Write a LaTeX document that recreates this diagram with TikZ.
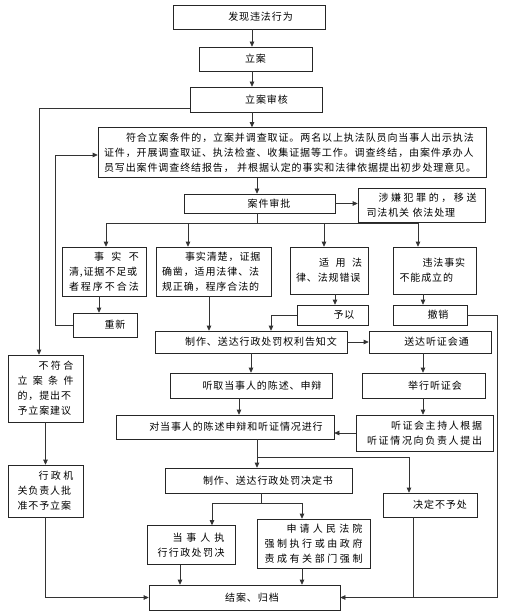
\documentclass[tikz,border=0pt]{standalone}
\usepackage{fontspec}
\setmainfont{Noto Sans CJK SC}[LetterSpace=9]
\usetikzlibrary{arrows.meta}
\makeatletter
\newcommand{\spreadtxt}[1]{\@tfor\spch:=#1\do{\spch\hfill}\unskip}
\makeatother
\begin{document}
\begin{tikzpicture}[x=1pt, y=-1pt,
  box/.style={draw=black!85, line width=0.6pt, inner xsep=2pt, inner ysep=1pt,
    font=\fontsize{10}{15}\selectfont},
  para/.style={box, align=left},
  sz/.style 2 args={minimum width=#1pt, minimum height=#2pt},
  link/.style={draw=black!80, line width=0.6pt},
  arr/.style={link, -{Triangle[length=5pt,width=4.5pt]}}]
  \useasboundingbox (0,0) rectangle (505,612);

  % Filing and investigation
  \node[box, sz={152}{24}] (find) at (249,17) {\hspace*{23pt}发现违法行为};
  \node[box, sz={113}{24}] (lian) at (255.5,59) {立案};
  \node[box, sz={132}{25}] (shenhe) at (256,99.5) {\hspace*{21pt}立案审核};
  \node[para, sz={388}{50}, text width=376pt] (diaocha) at (292,152.5)
    {\hspace*{22pt}符合立案条件的，立案并调查取证。两名以上执法队员向当事人出示执法\\
     证件，开展调查取证、执法检查、收集证据等工作。调查终结，由案件承办人\\
     员写出案件调查终结报告， 并根据认定的事实和法律依据提出初步处理意见。};
  \node[box, sz={151}{19}] (shenpi) at (259.5,203.5) {\hspace*{19pt}案件审批};
  \node[para, sz={127}{34}, text width=110pt] (yisong) at (421.5,205)
    {\hspace*{12pt}\spreadtxt{涉嫌犯罪的，移送}\\司法机关 依法处理};

  % Results of the review
  \node[para, sz={84}{49}, text width=70pt] (buqing) at (104,271.5)
    {\hspace*{25pt}\spreadtxt{事实不}\\清,证据不足或\\\spreadtxt{者程序不合法}};
  \node[para, sz={115}{49}, text width=103pt] (qingchu) at (213.5,271.5)
    {\hspace*{23pt}事实清楚，证据\\确凿，适用法律、法\\规正确，程序合法的};
  \node[para, sz={78}{47}, text width=66pt] (cuowu) at (329,270.5)
    {\hspace*{23pt}\spreadtxt{适用法}\\律、法规错误};
  \node[para, sz={83}{47}, text width=70pt] (buchengli) at (434.5,270.5)
    {\hspace*{23pt}违法事实\\不能成立的};
  \node[box, sz={64}{24}] (chongxin) at (105,325) {\hspace*{20pt}重新};
  \node[box, sz={71}{20}] (yuyi) at (332.5,315) {\hspace*{23pt}予以};
  \node[box, sz={74}{20}] (chexiao) at (430,315) {\hspace*{16pt}撤销};

  % Notice and hearing
  \node[box, sz={192}{22}] (gaozhi) at (251,342) {\hspace*{20pt}制作、送达行政处罚权利告知文};
  \node[box, sz={122}{22}] (tongzhi) at (430,342) {\hspace*{13pt}送达听证会通};
  \node[box, sz={162}{25}] (tingqu) at (251,385.5) {\hspace*{22pt}听取当事人的陈述、申辩};
  \node[box, sz={123}{25}] (juxing) at (423.5,385.5) {\hspace*{23pt}举行听证会};
  \node[box, sz={218}{24}] (jinxing) at (225,427) {\hspace*{22pt}对当事人的陈述申辩和听证情况进行};
  \node[para, sz={137}{36}, text width=115pt] (zhuchi) at (424.5,433)
    {\hspace*{24pt}\spreadtxt{听证会主持人根据}\\\spreadtxt{听证情况向负责人提出}};

  % Decision and closing
  \node[box, sz={187}{25}] (jueding) at (258.5,480.5) {\hspace*{19pt}制作、送达行政处罚决定书};
  \node[box, sz={94}{24}] (buyu) at (430,505) {\hspace*{20pt}决定不予处};
  \node[para, sz={88}{39}, text width=67pt] (zhixing) at (191,545)
    {\hspace*{15pt}\spreadtxt{当事人执}\\\spreadtxt{行行政处罚决}};
  \node[para, sz={113}{49}, text width=98pt] (qiangzhi) at (313.5,543.5)
    {\hspace*{22pt}\spreadtxt{申请人民法院}\\\spreadtxt{强制执行或由政府}\\\spreadtxt{责成有关部门强制}};
  \node[box, sz={191}{25}] (jiean) at (244.5,597.5) {\hspace*{15pt}结案、归档};

  % Not filed
  \node[para, sz={75}{67}, text width=56pt] (bufuhe) at (45.5,388.5)
    {\hspace*{21pt}\spreadtxt{不符合}\\\spreadtxt{立案条件}\\的，提出不\\予立案建议};
  \node[para, sz={75}{52}, text width=56pt] (xingzheng) at (45.5,491)
    {\hspace*{21pt}\spreadtxt{行政机}\\关负责人批\\准不予立案};

  % Column guides for the connectors
  \foreach \x in {99,106,180,188,209,212,239,252,257,261,271,302,324,335,409,413,418,423,497}
    \coordinate (v\x) at (\x,0);
  \coordinate (kNo) at (39,108);
  \coordinate (kRe) at (55,155);
  \coordinate (bus) at (0,223);
  \coordinate (kDe) at (257,457);
  \coordinate (kEx) at (261,503);

  % Main line
  \draw[arr] (v252 |- find.south) -- (v252 |- lian.north);
  \draw[arr] (v252 |- lian.south) -- (v252 |- shenhe.north);
  \draw[arr] (v252 |- shenhe.south) -- (v252 |- diaocha.north);
  \draw[arr] (v257 |- diaocha.south) -- (v257 |- shenpi.north);
  \draw[arr] (shenpi.east) -- (shenpi.east -| yisong.west);
  \draw[link] (v257 |- shenpi.south) -- (v257 |- bus);
  \draw[link] (v106 |- bus) -- (v418 |- bus);
  \foreach \x/\n in {106/buqing, 188/qingchu, 324/cuowu, 418/buchengli}
    \draw[arr] (v\x |- bus) -- (v\x |- \n.north);

  % Not filed branch
  \draw[arr] (shenhe.west |- kNo) -- (kNo) -- (kNo |- bufuhe.north);
  \draw[arr] (bufuhe.south) -- (xingzheng.north);
  \draw[arr] (xingzheng.south) |- (jiean.west);

  % Back to investigation
  \draw[arr] (v99 |- buqing.south) -- (v99 |- chongxin.north);
  \draw[arr] (chongxin.west) -| (kRe) -- (kRe -| diaocha.west);

  % Towards the notice
  \draw[arr] (v209 |- qingchu.south) -- (v209 |- gaozhi.north);
  \draw[arr] (v335 |- cuowu.south) -- (v335 |- yuyi.north);
  \draw[arr] (yuyi.west) -| (v271 |- gaozhi.north);
  \draw[arr] (v423 |- buchengli.south) -- (v423 |- chexiao.north);
  \draw[arr] (chexiao.east) -| (v497 |- jiean.east) -- (jiean.east);

  % Hearing
  \draw[arr] (gaozhi.east) -- (gaozhi.east -| tongzhi.west);
  \draw[arr] (gaozhi.south) -- (tingqu.north);
  \draw[arr] (v423 |- tongzhi.south) -- (v423 |- juxing.north);
  \draw[arr] (v239 |- tingqu.south) -- (v239 |- jinxing.north);
  \draw[arr] (v423 |- juxing.south) -- (v423 |- zhuchi.north);
  \draw[arr] (zhuchi.west) -- (zhuchi.west -| jinxing.east);

  % Decision
  \draw[link] (v257 |- jinxing.south) -- (kDe);
  \draw[arr] (kDe) -- (kDe |- jueding.north);
  \draw[arr] (kDe) -| (v409 |- buyu.north);
  \draw[link] (v261 |- jueding.south) -- (kEx);
  \draw[arr] (kEx) -| (v212 |- zhixing.north);
  \draw[arr] (kEx) -| (v302 |- qiangzhi.north);
  \draw[arr] (v180 |- zhixing.south) -- (v180 |- jiean.north);
  \draw[arr] (v302 |- qiangzhi.south) -- (v302 |- jiean.north);
  \draw[link] (v413 |- buyu.south) -- (v413 |- jiean.east);
\end{tikzpicture}
\end{document}
